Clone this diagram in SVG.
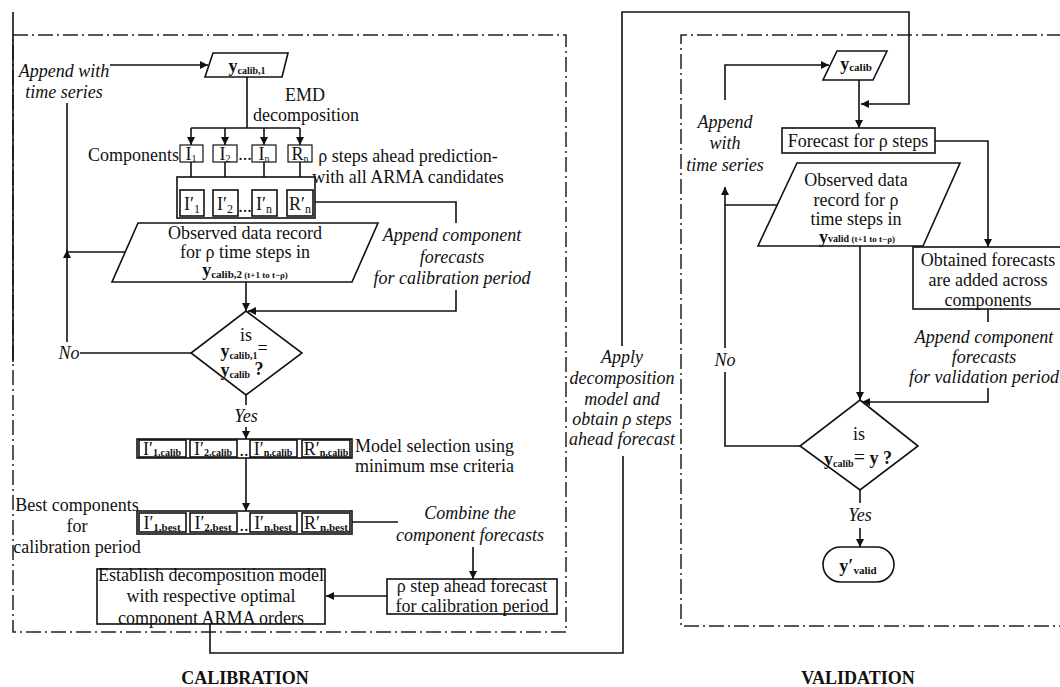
<svg xmlns="http://www.w3.org/2000/svg" width="1060" height="687" viewBox="0 0 1060 687">
<style>
.t{font-family:"Liberation Serif","Times New Roman",serif;font-size:18px;fill:#111}
.i{font-style:italic}
.b{font-weight:bold}
.m{text-anchor:middle}
.frame{fill:none;stroke:#222;stroke-width:1.5;stroke-dasharray:15 4 2 4}
.ln{fill:none;stroke:#111;stroke-width:1.6}
.box{fill:#fff;stroke:#111;stroke-width:1.6}
.thin{fill:#fff;stroke:#111;stroke-width:1.2}
</style>
<defs>
<marker id="ah" markerWidth="9" markerHeight="8" refX="8" refY="4" orient="auto" markerUnits="userSpaceOnUse">
<path d="M0,0 L8,4 L0,8 z" fill="#111"/>
</marker>
</defs>
<rect width="1060" height="687" fill="#fff"/>

<g id="frames">
<rect class="frame" x="13" y="35" width="553" height="597"/>
<line class="ln" x1="13" y1="12" x2="13" y2="362" stroke-width="1.3"/>
<path class="frame" d="M1062,35 H681 V626 H1062"/>
</g>

<g id="connectors">
<path class="ln" d="M110,65 H208" marker-end="url(#ah)"/>
<path class="ln" d="M247,77 V128 M191,128 H300"/>
<path class="ln" d="M191,128 V145" marker-end="url(#ah)"/>
<path class="ln" d="M225,128 V145" marker-end="url(#ah)"/>
<path class="ln" d="M264,128 V145" marker-end="url(#ah)"/>
<path class="ln" d="M300,128 V145" marker-end="url(#ah)"/>
<path class="ln" d="M191,162 V190" marker-end="url(#ah)"/>
<path class="ln" d="M225,162 V190" marker-end="url(#ah)"/>
<path class="ln" d="M264,162 V190" marker-end="url(#ah)"/>
<path class="ln" d="M300,162 V190" marker-end="url(#ah)"/>
<path class="ln" d="M315,202 H456 V223"/>
<path class="ln" d="M456,290 V311 H248" marker-end="url(#ah)"/>
<path class="ln" d="M246,282 V311" marker-end="url(#ah)"/>
<path class="ln" d="M191,353 H80"/>
<path class="ln" d="M67,342 V250" marker-end="url(#ah)"/>
<path class="ln" d="M125,252 H67 M67,252 V103"/>
<path class="ln" d="M246,395 V405"/>
<path class="ln" d="M246,427 V439" marker-end="url(#ah)"/>
<path class="ln" d="M246,458 V511" marker-end="url(#ah)"/>
<path class="ln" d="M351,522 H398"/>
<path class="ln" d="M473,547 V579" marker-end="url(#ah)"/>
<path class="ln" d="M387,596 H326" marker-end="url(#ah)"/>
<path class="ln" d="M210,624 V653 H623 V456"/>
<path class="ln" d="M622,346 V12 H909 V104 H861" marker-end="url(#ah)"/>
<path class="ln" d="M725,100 V65 H829" marker-end="url(#ah)"/>
<path class="ln" d="M859,80 V128" marker-end="url(#ah)"/>
<path class="ln" d="M935,141 H988 V247" marker-end="url(#ah)"/>
<path class="ln" d="M777,205 H725"/>
<path class="ln" d="M725,348 V187" marker-end="url(#ah)"/>
<path class="ln" d="M800,446 H725 V372"/>
<path class="ln" d="M860,246 V400" marker-end="url(#ah)"/>
<path class="ln" d="M988,309 V322"/>
<path class="ln" d="M988,388 V402 H862" marker-end="url(#ah)"/>
<path class="ln" d="M860,490 V503"/>
<path class="ln" d="M860,528 V547" marker-end="url(#ah)"/>
</g>

<g id="labels-calib">
<text class="t i m" x="64" y="77">Append with</text>
<text class="t i m" x="64" y="98">time series</text>
<text class="t m" x="305" y="101">EMD</text>
<text class="t m" x="306" y="121">decomposition</text>
<text class="t" x="179" y="161" text-anchor="end">Components</text>
<text class="t m" x="408" y="162">ρ steps ahead prediction-</text>
<text class="t m" x="408" y="183">with all ARMA candidates</text>
<text class="t i m" x="452" y="241">Append component</text>
<text class="t i m" x="452" y="263">forecasts</text>
<text class="t i m" x="452" y="284">for calibration period</text>
<text class="t i m" x="69" y="359">No</text>
<text class="t i m" x="246" y="422">Yes</text>
<text class="t" x="355" y="452">Model selection using</text>
<text class="t" x="355" y="472">minimum mse criteria</text>
<text class="t m" x="77" y="511">Best components</text>
<text class="t m" x="77" y="532">for</text>
<text class="t m" x="77" y="553">calibration period</text>
<text class="t i m" x="470" y="519">Combine the</text>
<text class="t i m" x="470" y="541">component forecasts</text>
<text class="t i m" x="622" y="363">Apply</text>
<text class="t i m" x="622" y="384">decomposition</text>
<text class="t i m" x="622" y="405">model and</text>
<text class="t i m" x="622" y="425">obtain  ρ steps</text>
<text class="t i m" x="622" y="445">ahead forecast</text>
<text class="t b m" x="245" y="684" font-size="22">CALIBRATION</text>
<text class="t b m" x="858" y="684" font-size="22">VALIDATION</text>
</g>

<g id="ycalib1">
<path class="box" d="M213,53 H288 L282,77 H205 Z"/>
<text class="t b m" x="247" y="72" font-size="21">y<tspan font-size="10" dy="2">calib,1</tspan></text>
</g>

<g id="components">
<rect class="thin" x="180" y="145" width="23" height="17"/>
<text class="t m" x="191" y="160" font-size="17">I<tspan font-size="10" dy="2">1</tspan></text>
<rect class="thin" x="213" y="145" width="24" height="17"/>
<text class="t m" x="225" y="160" font-size="17">I<tspan font-size="10" dy="2">2</tspan></text>
<text class="t m" x="245" y="160" font-size="17">...</text>
<rect class="thin" x="252" y="145" width="24" height="17"/>
<text class="t m" x="264" y="160" font-size="17">I<tspan font-size="10" dy="2">n</tspan></text>
<rect class="thin" x="288" y="145" width="24" height="17"/>
<text class="t m" x="300" y="160" font-size="17">R<tspan font-size="10" dy="2">n</tspan></text>
</g>

<g id="primed">
<rect class="box" x="177" y="177" width="138" height="41"/>
<rect class="box" x="180" y="190" width="24" height="26"/>
<text class="t m" x="192" y="210" font-size="19">I′<tspan font-size="12" dy="3">1</tspan></text>
<rect class="box" x="213" y="190" width="25" height="26"/>
<text class="t m" x="225" y="210" font-size="19">I′<tspan font-size="12" dy="3">2</tspan></text>
<text class="t m" x="245" y="212" font-size="17">...</text>
<rect class="box" x="252" y="190" width="25" height="26"/>
<text class="t m" x="264" y="210" font-size="19">I′<tspan font-size="12" dy="3">n</tspan></text>
<rect class="box" x="287" y="190" width="26" height="26"/>
<text class="t m" x="300" y="210" font-size="19">R′<tspan font-size="12" dy="3">n</tspan></text>
</g>

<g id="observed-calib">
<path class="box" d="M138,223 H378 L352,282 H112 Z"/>
<text class="t m" x="245" y="239">Observed data record</text>
<text class="t m" x="245" y="258">for ρ time steps in</text>
<text class="t b m" x="245" y="276" font-size="21">y<tspan font-size="11" dy="2">calib,2</tspan><tspan font-size="9"> (t+1 to t−ρ)</tspan></text>
</g>

<g id="decision-calib">
<path class="box" d="M246,311 L302,353 L246,395 L191,353 Z"/>
<text class="t m" x="246" y="341">is</text>
<text class="t b m" x="244" y="357" font-size="19">y<tspan font-size="10" dy="2">calib,1</tspan><tspan font-size="18" dy="-5" font-weight="normal">=</tspan></text>
<text class="t b m" x="242" y="376" font-size="19">y<tspan font-size="10" dy="2">calib</tspan><tspan font-size="18" dy="-3"> ?</tspan></text>
</g>

<g id="calib-row">
<rect class="box" x="137" y="439" width="215" height="19"/>
<rect class="box" x="139" y="440" width="47" height="17"/>
<rect class="box" x="190" y="440" width="47" height="17"/>
<rect class="box" x="250" y="440" width="47" height="17"/>
<rect class="box" x="302" y="440" width="48" height="17"/>
<text class="t m" x="162" y="455" font-size="18">I′<tspan font-size="10" dy="1" font-weight="bold">1,calib</tspan></text>
<text class="t m" x="213" y="455" font-size="18">I′<tspan font-size="10" dy="1" font-weight="bold">2,calib</tspan></text>
<text class="t m" x="244" y="456" font-size="14">..</text>
<text class="t m" x="273" y="455" font-size="18">I′<tspan font-size="10" dy="1" font-weight="bold">n,calib</tspan></text>
<text class="t m" x="326" y="455" font-size="18">R′<tspan font-size="10" dy="1" font-weight="bold">n,calib</tspan></text>
</g>

<g id="best-row">
<rect class="box" x="137" y="511" width="215" height="23"/>
<rect class="box" x="139" y="513" width="47" height="19"/>
<rect class="box" x="190" y="513" width="47" height="19"/>
<rect class="box" x="250" y="513" width="47" height="19"/>
<rect class="box" x="302" y="513" width="48" height="19"/>
<text class="t m" x="162" y="529" font-size="19">I′<tspan font-size="11" dy="2" font-weight="bold">1,best</tspan></text>
<text class="t m" x="213" y="529" font-size="19">I′<tspan font-size="11" dy="2" font-weight="bold">2,best</tspan></text>
<text class="t m" x="244" y="531" font-size="14">..</text>
<text class="t m" x="273" y="529" font-size="19">I′<tspan font-size="11" dy="2" font-weight="bold">n,best</tspan></text>
<text class="t m" x="326" y="529" font-size="19">R′<tspan font-size="11" dy="2" font-weight="bold">n,best</tspan></text>
</g>

<g id="forecast-calib">
<rect class="box" x="387" y="579" width="170" height="35"/>
<text class="t m" x="472" y="592">ρ step ahead forecast</text>
<text class="t m" x="472" y="612">for calibration period</text>
</g>

<g id="establish">
<rect class="box" x="97" y="569" width="228" height="55"/>
<text class="t m" x="211" y="581">Establish decomposition model</text>
<text class="t m" x="211" y="602">with respective optimal</text>
<text class="t m" x="211" y="624">component ARMA orders</text>
</g>

<g id="ycalib">
<path class="box" d="M837,51 H887 L873,80 H823 Z"/>
<text class="t b m" x="856" y="70" font-size="20">y<tspan font-size="11" dy="1">calib</tspan></text>
</g>

<g id="labels-valid">
<text class="t i m" x="725" y="128">Append</text>
<text class="t i m" x="725" y="149">with</text>
<text class="t i m" x="725" y="171">time series</text>
<text class="t i m" x="725" y="366">No</text>
<text class="t i m" x="984" y="343">Append component</text>
<text class="t i m" x="984" y="363">forecasts</text>
<text class="t i m" x="984" y="383">for validation period</text>
<text class="t i m" x="860" y="521">Yes</text>
</g>

<g id="forecast-valid">
<rect class="box" x="782" y="128" width="153" height="25"/>
<text class="t m" x="858" y="147">Forecast for ρ steps</text>
</g>

<g id="observed-valid">
<path class="box" d="M797,163 H960 L923,246 H758 Z"/>
<text class="t m" x="856" y="186">Observed data</text>
<text class="t m" x="856" y="206">record for ρ</text>
<text class="t m" x="856" y="225">time steps in</text>
<text class="t b m" x="857" y="243" font-size="20">y<tspan font-size="10" dy="-1">valid</tspan><tspan font-size="9"> (t+1 to t−ρ)</tspan></text>
</g>

<g id="obtained">
<rect class="box" x="913" y="247" width="150" height="62"/>
<text class="t m" x="988" y="266">Obtained forecasts</text>
<text class="t m" x="988" y="286">are added across</text>
<text class="t m" x="988" y="306">components</text>
</g>

<g id="decision-valid">
<path class="box" d="M860,400 L918,446 L860,490 L800,446 Z"/>
<text class="t m" x="859" y="440">is</text>
<text class="t b m" x="858" y="465" font-size="19">y<tspan font-size="10" dy="2">calib</tspan><tspan font-size="20" dy="-3" font-weight="normal">=</tspan><tspan> y ?</tspan></text>
</g>

<g id="yvalid">
<rect class="box" x="823" y="547" width="71" height="35" rx="17.5"/>
<text class="t b m" x="858" y="572" font-size="21">y′<tspan font-size="11" dy="2">valid</tspan></text>
</g>
</svg>
